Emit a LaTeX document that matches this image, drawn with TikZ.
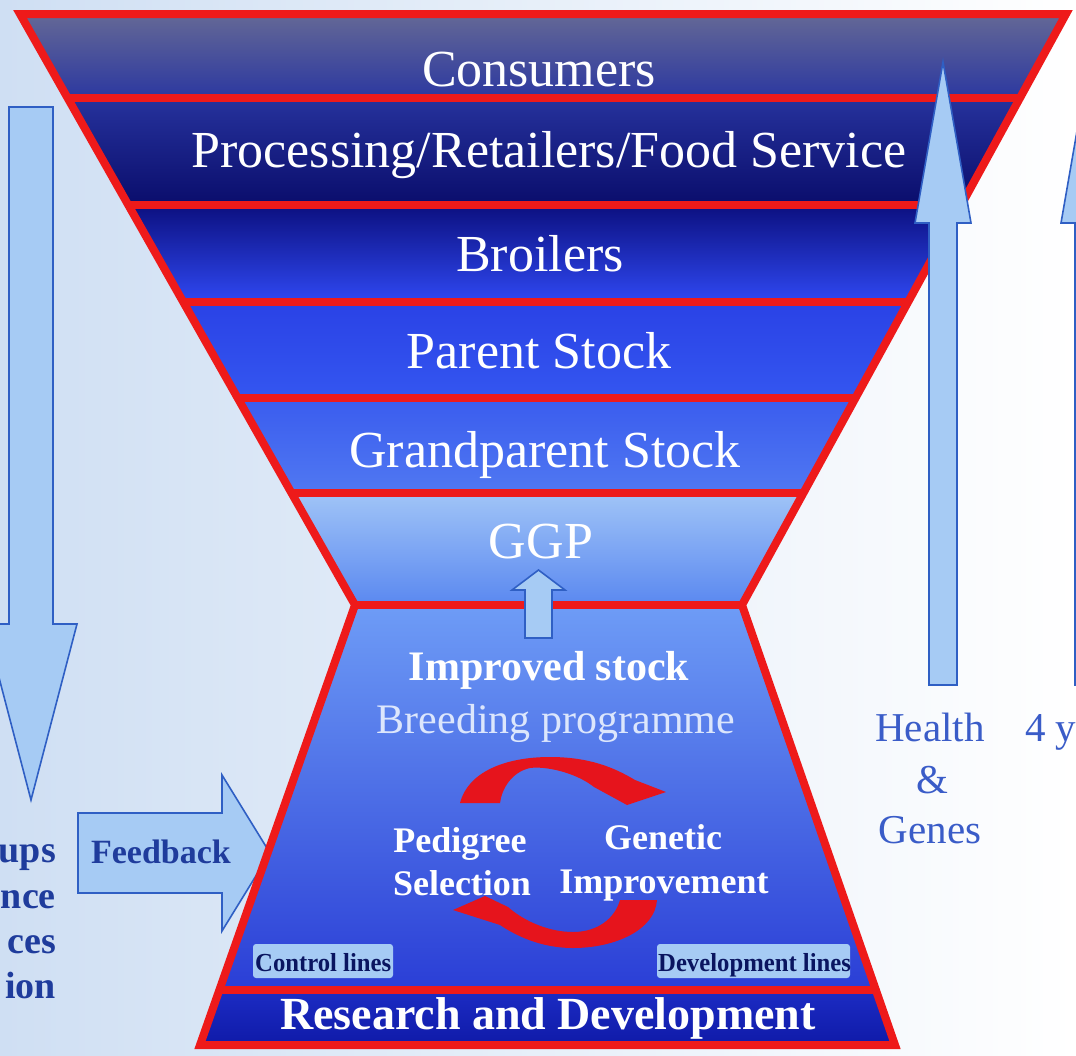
\documentclass[tikz,border=0pt]{standalone}
\usepackage{fontspec}
\setmainfont{Liberation Serif}
\usetikzlibrary{calc}
\definecolor{bgl}{HTML}{CFDFF3}
\definecolor{redl}{HTML}{EE1A1A}
\definecolor{arrred}{HTML}{E6141C}
\definecolor{arrfill}{HTML}{A6CBF4}
\definecolor{arrline}{HTML}{2F5FC4}
\definecolor{navytxt}{HTML}{1F3C9C}
\definecolor{healthtxt}{HTML}{3A5CC8}
\definecolor{boxtxt}{HTML}{0A1560}
\definecolor{c1t}{HTML}{646896}\definecolor{c1b}{HTML}{2C38A0}
\definecolor{c2t}{HTML}{26329C}\definecolor{c2b}{HTML}{0A0D6C}
\definecolor{c3t}{HTML}{0C1080}\definecolor{c3b}{HTML}{2F48F2}
\definecolor{c4t}{HTML}{2A42E6}\definecolor{c4b}{HTML}{3456F0}
\definecolor{c5t}{HTML}{3A5CEE}\definecolor{c5b}{HTML}{5078F2}
\definecolor{c6t}{HTML}{A0C4F7}\definecolor{c6b}{HTML}{5A88F0}
\definecolor{c7t}{HTML}{6E9CF6}\definecolor{c7b}{HTML}{2A3ED6}
\definecolor{c8t}{HTML}{1C2CC4}\definecolor{c8b}{HTML}{0F1AA8}
\definecolor{breedtxt}{HTML}{DCE6FC}
\tikzset{
  redline/.style={draw=redl, line width=8pt, line join=miter},
  blockarrow/.style={fill=arrfill, draw=arrline, line width=1.6pt, line join=miter},
  bandlabel/.style={anchor=base, text=white, font=\fontsize{52}{60}\selectfont, inner sep=0pt},
  innerbold/.style={anchor=base, text=white, font=\fontsize{36}{42}\selectfont\bfseries, inner sep=0pt},
  sidetxt/.style={anchor=base east, text=navytxt, font=\fontsize{38}{44}\selectfont\bfseries, inner sep=0pt},
  healthlab/.style={anchor=base, text=healthtxt, font=\fontsize{41}{48}\selectfont, inner sep=0pt},
  linebox/.style={fill=arrfill, rounded corners=3pt},
  boxlab/.style={anchor=base west, text=boxtxt, font=\fontsize{26}{28}\selectfont\bfseries, inner sep=0pt, xscale=0.95}
}
\begin{document}
\begin{tikzpicture}[x=1pt,y=-1pt]
\useasboundingbox (0,0) rectangle (1076,1055);
\begin{scope}
\clip (0,0) rectangle (1076,1055);
% background
\shade[left color=bgl, right color=white] (0,0) rectangle (1076,1055);

% left down arrow
\draw[blockarrow] (9,107) -- (53,107) -- (53,624) -- (77,624) -- (31,800) -- (-15,624) -- (9,624) -- cycle;

% feedback arrow
\draw[blockarrow] (78,813) -- (222,813) -- (222,775) -- (270,853) -- (222,931) -- (222,893) -- (78,893) -- cycle;

% funnel bands
\shade[top color=c1t, bottom color=c1b] (20,14) -- (1066,14) -- (1020.0,98) -- (67.6,98) -- cycle;
\shade[top color=c2t, bottom color=c2b] (67.6,98) -- (1020.0,98) -- (961.3,205) -- (128.3,205) -- cycle;
\shade[top color=c3t, bottom color=c3b] (128.3,205) -- (961.3,205) -- (908.1,302) -- (183.2,302) -- cycle;
\shade[top color=c4t, bottom color=c4b] (183.2,302) -- (908.1,302) -- (855.5,398) -- (237.7,398) -- cycle;
\shade[top color=c5t, bottom color=c5b] (237.7,398) -- (855.5,398) -- (803.4,493) -- (291.5,493) -- cycle;
\shade[top color=c6t, bottom color=c6b] (291.5,493) -- (803.4,493) -- (742,605) -- (355,605) -- cycle;
\shade[top color=c7t, bottom color=c7b] (355,605) -- (742,605) -- (875.9,990) -- (219.4,990) -- cycle;
\shade[top color=c8t, bottom color=c8b] (219.4,990) -- (875.9,990) -- (895,1045) -- (200,1045) -- cycle;

% separators and outline
\foreach \ya/\xa/\xb in {98/67.6/1020.0, 205/128.3/961.3, 302/183.2/908.1, 398/237.7/855.5, 493/291.5/803.4, 605/355/742, 990/219.4/875.9}
  \draw[redline] (\xa,\ya) -- (\xb,\ya);
\draw[redline] (20,14) -- (1066,14) -- (742,605) -- (895,1045) -- (200,1045) -- (355,605) -- cycle;

% right arrows
\draw[blockarrow] (929,685) -- (929,223) -- (915,223) -- (943,62) -- (971,223) -- (957,223) -- (957,685) -- cycle;
\draw[blockarrow] (1075,685) -- (1075,223) -- (1061,223) -- (1089,62) -- (1117,223) -- (1103,223) -- (1103,685) -- cycle;

% GGP small arrow
\draw[blockarrow] (525,638) -- (525,590) -- (512,590) -- (538.5,570) -- (565,590) -- (552,590) -- (552,638) -- cycle;

% circular red arrows
\fill[arrred] (460,803) .. controls (468,772) and (505,757) .. (550,757)
  .. controls (590,757) and (615,768) .. (635,780) -- (666,792) -- (627,805) -- (594,787)
  .. controls (575,772) and (545,766) .. (530,768)
  .. controls (512,772) and (502,788) .. (500,803) -- cycle;
\fill[arrred] (620,900) -- (657,900) .. controls (655,930) and (615,948) .. (573,948)
  .. controls (540,948) and (515,935) .. (500,925) -- (453,910) -- (485,896) -- (508,907)
  .. controls (525,922) and (550,932) .. (573,932)
  .. controls (598,932) and (615,918) .. (620,900) -- cycle;

% line boxes
\fill[linebox] (253,944) rectangle (393,978);
\begin{scope}
\clip (253,944) rectangle (393,978);
\node[boxlab] (ctrl) at (255,971) {Control lines};
\end{scope}
\fill[linebox] (657,944) rectangle (850,978);
\begin{scope}
\clip (657,944) rectangle (850,978);
\node[boxlab] (devl) at (658,971) {Development lines};
\end{scope}

% band labels
\node[bandlabel] (cons) at (539,86) {Consumers};
\node[bandlabel] (proc) at (549,167) {Processing/Retailers/Food Service};
\node[bandlabel] (broil) at (540,271) {Broilers};
\node[bandlabel] (parent) at (539,368) {Parent Stock};
\node[bandlabel] (grand) at (545,467) {Grandparent Stock};
\node[bandlabel] (ggp) at (541,558) {GGP};

\node[anchor=base, text=white, font=\fontsize{42}{48}\selectfont\bfseries, inner sep=0pt] (impr) at (549,680) {Improved stock};
\node[anchor=base, text=breedtxt, font=\fontsize{42}{48}\selectfont, inner sep=0pt] (breed) at (556,733) {Breeding programme};
\node[innerbold] (ped) at (460,852) {Pedigree};
\node[innerbold] (sel) at (462,895) {Selection};
\node[innerbold] (gen) at (663,849) {Genetic};
\node[innerbold] (imp) at (664,893) {Improvement};
\node[anchor=base, text=white, font=\fontsize{46}{52}\selectfont\bfseries, inner sep=0pt] (rd) at (548,1029) {Research and Development};

% side texts
\node[anchor=base, text=navytxt, font=\fontsize{34}{40}\selectfont\bfseries, inner sep=0pt] (fb) at (161,863) {Feedback};
\node[sidetxt] (t1) at (56,862) {ups};
\node[sidetxt] (t2) at (56,908) {nce};
\node[sidetxt] (t3) at (56,953) {ces};
\node[sidetxt] (t4) at (56,998) {ion};

\node[healthlab] (health) at (930,741) {Health};
\node[healthlab] (amp) at (932,793) {\&};
\node[healthlab] (genes) at (930,843) {Genes};
\node[healthlab, anchor=base west] (yrs) at (1025,741) {4 y};
\end{scope}
\end{tikzpicture}
\end{document}
